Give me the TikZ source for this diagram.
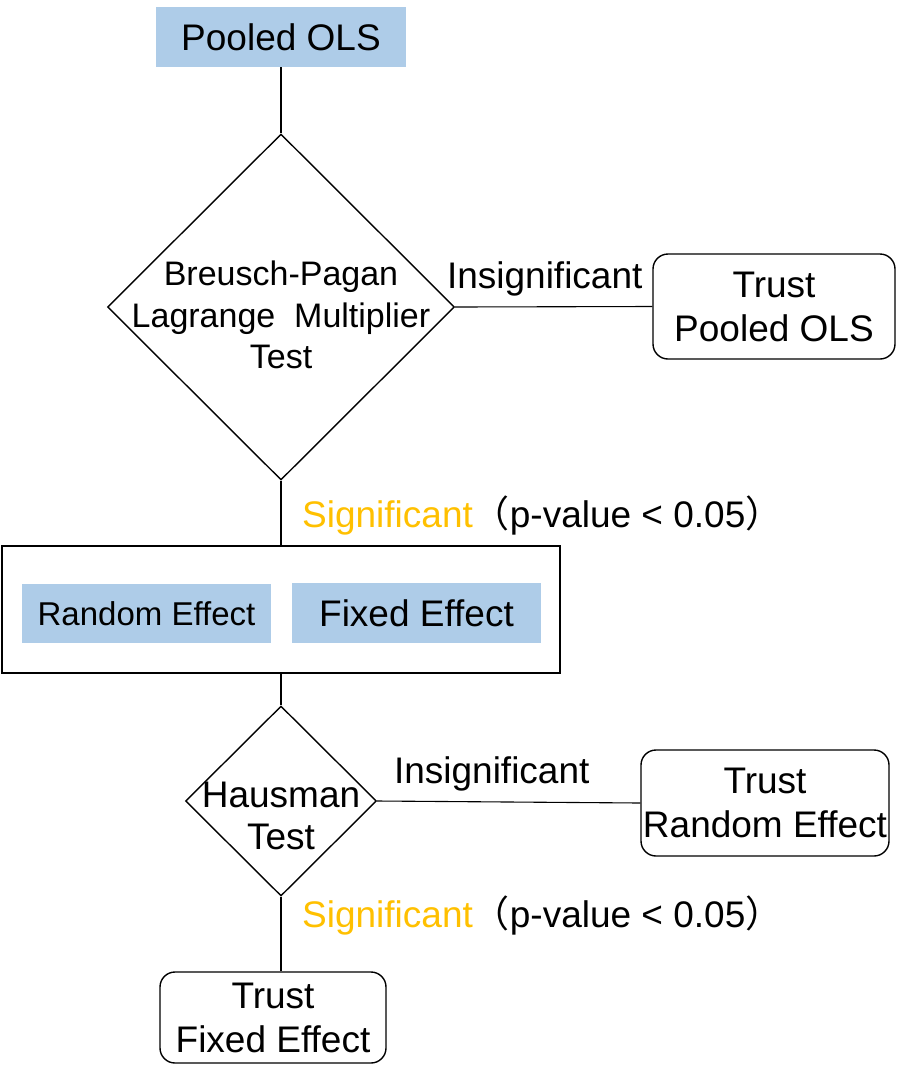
\documentclass[tikz,border=0pt]{standalone}
\usepackage{fontspec}
\setmainfont{Liberation Sans}
\newfontfamily\cjkfont{Noto Sans CJK SC}
\usetikzlibrary{shapes.geometric}
\definecolor{boxblue}{RGB}{174,204,232}
\definecolor{sigorange}{RGB}{255,192,0}
\begin{document}
\begin{tikzpicture}[x=1pt,y=-1pt,
  fillbox/.style={rectangle, fill=boxblue, inner sep=0pt},
  decision/.style={diamond, draw, line width=1.4pt, aspect=1, inner sep=0pt},
  trustbox/.style={rectangle, draw, rounded corners=15pt, line width=1.4pt, align=center, inner sep=0pt, font=\fontsize{37}{44}\selectfont},
  conn/.style={draw, line width=1.1pt},
  lbl/.style={font=\fontsize{37}{44}\selectfont, inner sep=0pt}
]
\useasboundingbox (0,0) rectangle (906,1085);

% top box
\node[fillbox, minimum width=250pt, minimum height=60pt, font=\fontsize{37}{44}\selectfont] (pols) at (281,37) {Pooled OLS};

% Breusch-Pagan diamond
\node[decision, minimum width=347pt, minimum height=346pt] (bp) at (281,307) {};
\node[align=center, inner sep=0pt, font=\fontsize{34}{41.5}\selectfont] (bptext) at (281,315) {Breusch-Pagan\\Lagrange\ \ Multiplier\\Test};

% Trust Pooled OLS
\node[trustbox, minimum width=242pt, minimum height=105pt] (tpols) at (774,306.5) {Trust\\Pooled OLS};

% outer box with two models
\node[rectangle, draw, line width=2pt, minimum width=558pt, minimum height=127pt, inner sep=0pt] (outer) at (281,609.5) {};
\node[fillbox, minimum width=249pt, minimum height=59pt, font=\fontsize{33}{40}\selectfont] (re) at (146.5,613.5) {Random Effect};
\node[fillbox, minimum width=249pt, minimum height=60pt, font=\fontsize{37}{44}\selectfont] (fe) at (416.5,613) {Fixed Effect};

% Hausman diamond
\node[decision, minimum width=191pt, minimum height=190pt] (haus) at (281,801) {};
\node[align=center, inner sep=0pt, font=\fontsize{37}{42}\selectfont] (haustext) at (281,816) {Hausman\\Test};

% Trust boxes
\node[trustbox, minimum width=248pt, minimum height=106pt] (tre) at (765,803) {Trust\\Random Effect};
\node[trustbox, minimum width=226pt, minimum height=91pt] (tfe) at (273,1017.5) {Trust\\Fixed Effect};

% connectors
\draw[conn] (pols.south) -- (bp.north);
\draw[conn] (bp.east) -- node[lbl, above, inner sep=10pt, xshift=-9pt] (ins1) {Insignificant} (tpols.west);
\draw[conn] (bp.south) -- (outer.north);
\draw[conn] (outer.south) -- (haus.north);
\draw[conn] (haus.east) -- node[lbl, above, inner sep=10pt, xshift=-17pt] (ins2) {Insignificant} (tre.west);
\draw[conn] (haus.south) -- (haus.south |- tfe.north);

% significant labels
\node[lbl, anchor=base west] (sig1) at (302,527) {\textcolor{sigorange}{Significant}{\cjkfont （}p-value < 0.05{\cjkfont ）}};
\node[lbl, anchor=base west] (sig2) at (302,927) {\textcolor{sigorange}{Significant}{\cjkfont （}p-value < 0.05{\cjkfont ）}};
\end{tikzpicture}
\end{document}
